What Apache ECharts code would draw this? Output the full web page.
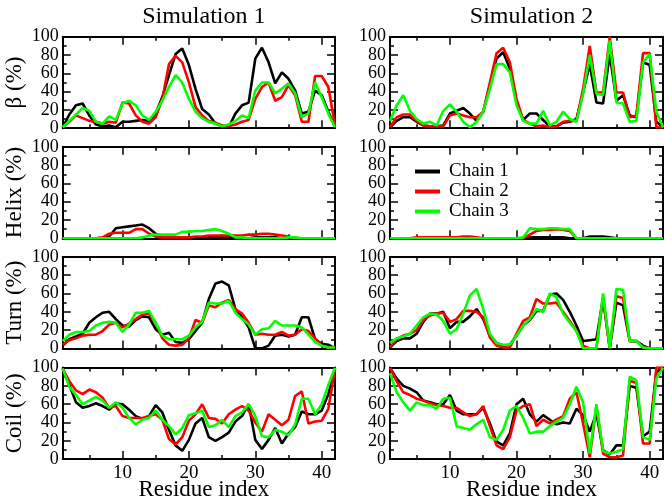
<!DOCTYPE html>
<html><head><meta charset="utf-8">
<script src="https://cdn.jsdelivr.net/npm/echarts@6/dist/echarts.min.js"></script>
<style>html,body{margin:0;padding:0;background:#fff}#c{width:664px;height:502px}</style>
</head><body><div id="c"></div>
<script>
const residues = [1,2,3,4,5,6,7,8,9,10,11,12,13,14,15,16,17,18,19,20,21,22,23,24,25,26,27,28,29,30,31,32,33,34,35,36,37,38,39,40,41,42];
const xMajorTicks = [10,20,30,40];
const xMinorTicks = [5,15,25,35];
const yTickLabels = [0,20,40,60,80,100];
const chainNames = ['Chain 1','Chain 2','Chain 3'];
const chainColors = ['#000000','#ff0000','#00ff00'];
const simTitles = ['Simulation 1','Simulation 2'];
const panelNames = ['β (%)','Helix (%)','Turn (%)','Coil (%)'];
const xAxisName = 'Residue index';

// Simulation 1
const sim1_beta_c1 = [1,15,25,27,14,4,2,3,1,7,7,8,9,8,16,34,58,81,87,69,43,21,15,5,2,1,16,25,28,76,88,72,49,61,54,41,16,18,41,36,18,1];
const sim1_beta_c2 = [1,7,14,11,8,7,5,7,6,28,27,14,7,5,12,32,70,79,72,50,23,14,8,6,3,2,4,7,9,32,45,50,30,34,47,36,7,7,57,57,45,3];
const sim1_beta_c3 = [1,8,15,22,19,7,5,13,9,27,30,25,14,9,18,30,45,58,50,32,18,11,7,5,2,4,8,14,11,41,50,50,38,43,49,38,12,16,50,34,16,1];
const sim1_helix_c1 = [0,0,0,0,0,0,0,2,11,12,13,14,15,11,5,2,1,0,0,0,0,0,1,1,1,1,1,0,0,1,1,1,1,0,0,0,0,0,0,0,0,0];
const sim1_helix_c2 = [0,0,0,0,0,0,1,5,6,6,6,10,10,5,2,1,1,1,1,1,2,2,3,3,3,3,3,3,4,4,5,5,4,3,2,0,0,0,0,0,0,0];
const sim1_helix_c3 = [0,0,0,0,0,0,0,0,0,0,0,0,1,3,4,4,4,4,7,7,8,8,9,10,8,5,1,1,0,0,0,0,0,0,1,1,0,0,0,0,0,0];
const sim1_turn_c1 = [3,10,13,16,28,34,39,40,32,25,24,31,35,34,21,15,17,7,6,10,19,28,54,71,73,69,43,34,23,0,0,3,14,15,13,15,34,34,10,5,4,0];
const sim1_turn_c2 = [4,9,11,14,15,15,19,26,28,23,27,32,37,38,28,11,4,3,4,11,31,28,47,45,50,53,43,38,28,15,16,15,15,18,14,15,21,19,11,3,1,1];
const sim1_turn_c3 = [8,15,18,18,19,25,28,29,28,18,26,39,39,41,28,14,10,10,10,14,23,29,50,49,49,52,39,32,26,15,21,22,30,25,25,25,23,15,7,3,1,1];
const sim1_coil_c1 = [99,81,62,56,58,61,58,54,61,60,54,47,44,47,59,51,32,15,9,21,39,45,24,20,24,29,41,47,60,21,11,21,34,17,28,35,52,49,49,53,71,99];
const sim1_coil_c2 = [99,85,75,71,76,73,67,56,58,47,45,45,45,47,49,43,22,16,24,42,49,60,45,44,39,49,54,58,53,40,30,49,43,37,43,69,74,39,41,42,55,99];
const sim1_coil_c3 = [99,79,70,60,64,68,64,56,62,56,45,38,43,45,53,43,36,27,34,48,50,53,35,37,43,35,47,51,60,47,25,24,32,30,26,38,66,66,49,60,81,100];

// Simulation 2
const sim2_beta_c1 = [1,8,12,12,7,3,2,2,3,16,19,22,16,8,18,47,76,83,65,28,9,16,16,9,2,2,6,7,10,39,70,28,27,81,30,36,14,12,72,69,7,1];
const sim2_beta_c2 = [1,12,15,15,8,3,2,2,2,14,16,14,12,12,18,50,82,88,72,32,9,5,2,3,1,2,7,8,8,43,90,39,39,100,39,39,12,14,82,82,1,1];
const sim2_beta_c3 = [8,25,36,19,10,5,7,3,19,26,18,7,1,7,18,43,70,70,61,25,8,5,5,19,3,7,18,10,7,38,80,38,36,96,28,27,7,8,72,81,18,1];
const sim2_helix_c1 = [0,0,0,0,0,0,0,0,0,0,0,0,0,0,0,0,0,0,0,0,0,1,1,1,1,1,1,0,0,0,2,2,2,1,0,0,0,0,0,0,0,0];
const sim2_helix_c2 = [0,0,0,0,1,1,1,1,1,1,1,2,2,1,0,0,0,0,0,0,0,4,8,9,9,10,9,8,0,0,0,0,0,0,0,0,0,0,0,0,0,0];
const sim2_helix_c3 = [0,0,0,0,0,0,0,0,0,0,0,0,0,0,0,0,0,0,0,0,1,11,10,10,11,11,10,10,0,0,0,0,0,0,0,0,0,0,0,0,0,0];
const sim2_turn_c1 = [1,8,11,11,16,29,38,38,40,22,29,29,35,43,32,14,6,3,4,14,25,31,41,41,59,60,53,40,25,8,9,10,55,0,50,47,8,8,3,0,0,0];
const sim2_turn_c2 = [1,10,14,16,20,31,36,38,39,29,32,41,41,40,34,12,3,1,1,16,30,34,54,49,49,50,40,30,19,3,0,0,55,0,57,55,8,8,1,0,0,0];
const sim2_turn_c3 = [6,11,13,16,25,34,38,37,30,16,21,38,58,65,43,16,6,4,4,14,25,32,43,40,60,56,38,28,19,0,0,0,60,0,65,64,8,8,1,0,0,0];
const sim2_coil_c1 = [100,88,80,77,73,64,62,60,60,70,53,49,49,49,56,39,19,15,28,60,66,49,41,48,43,38,40,39,55,48,30,50,10,5,15,15,80,78,25,30,95,100];
const sim2_coil_c2 = [100,85,73,70,66,64,61,59,58,56,56,51,47,49,58,36,15,11,24,53,58,60,36,43,39,43,47,66,73,39,2,58,6,2,2,4,86,83,17,17,100,100];
const sim2_coil_c3 = [94,73,62,53,62,59,59,55,66,67,36,34,32,38,43,24,21,32,53,58,45,28,30,30,36,41,45,60,79,62,6,60,9,6,8,11,90,86,24,21,88,100];

const panels = [
  [[sim1_beta_c1,sim1_beta_c2,sim1_beta_c3],[sim2_beta_c1,sim2_beta_c2,sim2_beta_c3]],
  [[sim1_helix_c1,sim1_helix_c2,sim1_helix_c3],[sim2_helix_c1,sim2_helix_c2,sim2_helix_c3]],
  [[sim1_turn_c1,sim1_turn_c2,sim1_turn_c3],[sim2_turn_c1,sim2_turn_c2,sim2_turn_c3]],
  [[sim1_coil_c1,sim1_coil_c2,sim1_coil_c3],[sim2_coil_c1,sim2_coil_c2,sim2_coil_c3]]
];

const FONT = 'Liberation Serif';
const colLeft = [62.7, 390];
const colWidth = [272.3, 273];
const rowTop = [36.7, 146.8, 256.9, 367.6];
const rowHeight = 91.5;

const grid = [], xAxis = [], yAxis = [], series = [];
const black = '#000';
for (let r = 0; r < 4; r++) {
  for (let c = 0; c < 2; c++) {
    const g = grid.length;
    grid.push({left: colLeft[c], top: rowTop[r], width: colWidth[c], height: rowHeight});
    const isBottom = r === 3;
    const mk = (pos, ticks, len, line, labels) => ({
      gridIndex: g, type: 'value', min: 1, max: 42, position: pos,
      axisLine: {show: line, onZero: false, lineStyle: {color: black, width: 2}},
      axisTick: {show: true, inside: true, length: len, customValues: ticks, lineStyle: {color: black, width: 1.5}},
      axisLabel: {show: labels, customValues: xMajorTicks, hideOverlap: false, fontFamily: FONT, fontSize: 19, color: black, margin: 4},
      splitLine: {show: false}
    });
    xAxis.push(mk('bottom', xMajorTicks, 8, true, isBottom));
    xAxis.push(mk('bottom', xMinorTicks, 4, false, false));
    xAxis.push(mk('top', xMajorTicks, 8, true, false));
    xAxis.push(mk('top', xMinorTicks, 4, false, false));
    const mky = (pos, labels) => ({
      gridIndex: g, type: 'value', min: 0, max: 100, interval: 20, position: pos,
      axisLine: {show: true, onZero: false, lineStyle: {color: black, width: 2}},
      axisTick: {show: true, inside: true, length: 8, lineStyle: {color: black, width: 1.5}},
      minorTick: {show: true, splitNumber: 2, length: 4, lineStyle: {color: black, width: 1.5}},
      axisLabel: {show: labels, customValues: yTickLabels, showMinLabel: true, showMaxLabel: true, hideOverlap: false,
        fontFamily: FONT, fontSize: 18, lineHeight: 8, color: black, margin: 4},
      splitLine: {show: false},
      name: (labels && c === 0) ? panelNames[r] : '', nameLocation: 'middle', nameGap: 36, nameRotate: 90,
      nameTextStyle: {fontFamily: FONT, fontSize: 23, color: black}
    });
    yAxis.push(mky('left', true));
    yAxis.push(mky('right', false));
    for (let k = 0; k < 3; k++) {
      const vals = panels[r][c][k];
      series.push({
        type: 'line', name: chainNames[k], xAxisIndex: g * 4, yAxisIndex: g * 2,
        data: residues.map((x, i) => [x, vals[i]]),
        showSymbol: false, symbol: 'none', color: chainColors[k],
        lineStyle: {color: chainColors[k], width: 2.6}, z: 2 + k, silent: true
      });
    }
  }
}

const titles = simTitles.map((t, i) => ({
  text: t, left: colLeft[i] + colWidth[i] / 2, top: 0, textAlign: 'center',
  textStyle: {fontFamily: FONT, fontSize: 24, fontWeight: 'normal', color: black}
}));
for (let c = 0; c < 2; c++) {
  titles.push({
    text: xAxisName, left: colLeft[c] + colWidth[c] / 2, top: 473, textAlign: 'center',
    textStyle: {fontFamily: FONT, fontSize: 23, fontWeight: 'normal', color: black}
  });
}

const chart = echarts.init(document.getElementById('c'), null, {renderer: 'canvas'});
chart.setOption({
  animation: false,
  backgroundColor: '#fff',
  title: titles,
  legend: {
    data: chainNames.map((n, k) => ({name: n, itemStyle: {color: chainColors[k]}})),
    orient: 'vertical', left: 410, top: 157, itemWidth: 25, itemHeight: 4, itemGap: 1,
    icon: 'rect', selectedMode: false,
    textStyle: {fontFamily: FONT, fontSize: 19, color: black, padding: [0, 0, 0, 4]}
  },
  grid, xAxis, yAxis, series
});
</script></body></html>
